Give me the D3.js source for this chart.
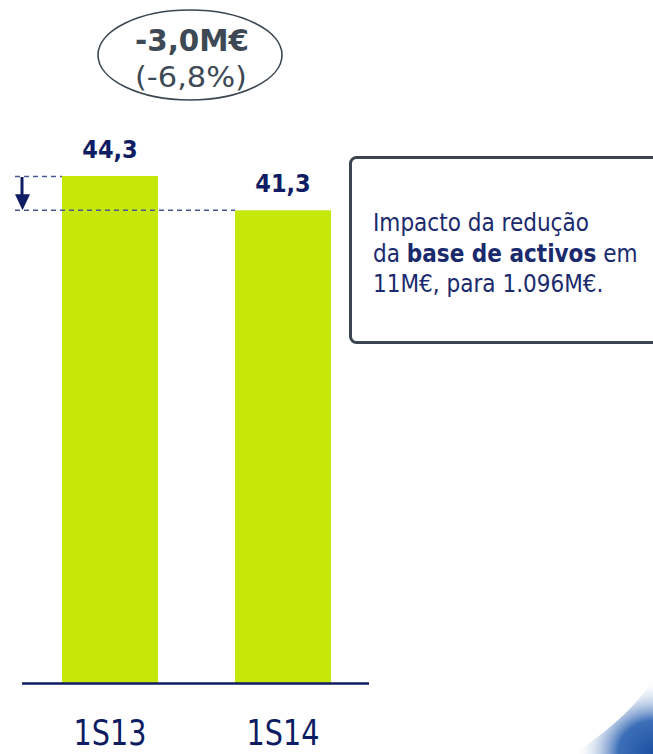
<!DOCTYPE html>
<html><head><meta charset="utf-8">
<script src="https://cdn.jsdelivr.net/npm/d3@7"></script>
<style>html,body{margin:0;padding:0;background:#fff;}svg{display:block;}</style>
</head><body>
<script>
const categories = ["1S13", "1S14"];
const values = [44.3, 41.3];
const valueLabels = ["44,3", "41,3"];
const deltaLabel = "-3,0M€";
const deltaPct = "(-6,8%)";
const noteLines = [
  [{t:"Impacto da redução", b:false}],
  [{t:"da ", b:false}, {t:"base de activos", b:true}, {t:" em", b:false}],
  [{t:"11M€, para 1.096M€.", b:false}]
];

const W = 653, H = 754;
const svg = d3.select("body").append("svg").attr("width", W).attr("height", H);
const fontC = "'DejaVu Sans Condensed', 'DejaVu Sans', sans-serif";
const navy = "#0e1d63";

// corner swoosh decoration
const defs = svg.append("defs");
const rg = defs.append("radialGradient").attr("id","sw").attr("cx","100%").attr("cy","100%").attr("r","100%");
rg.append("stop").attr("offset","0%").attr("stop-color","#1b4fa0");
rg.append("stop").attr("offset","45%").attr("stop-color","#3d6fb8");
rg.append("stop").attr("offset","100%").attr("stop-color","#ffffff").attr("stop-opacity",0);
svg.append("path").attr("d","M653,680 L653,754 L575,754 C600,735 630,715 653,680 Z").attr("fill","url(#sw)");

const xPos = d3.scalePoint().domain(categories).range([110, 283]);
const barW = 96;
const y = d3.scaleLinear().domain([0, 44.3]).range([683, 176]);

svg.selectAll("rect.bar").data(values).join("rect")
  .attr("x", (d,i) => xPos(categories[i]) - barW/2)
  .attr("y", d => y(d)).attr("width", barW).attr("height", d => y(0) - y(d))
  .attr("fill", "#c5e80a");

// baseline axis
const axis = d3.axisBottom(xPos).tickSize(0).tickFormat("");
const ag = svg.append("g").attr("transform", `translate(0,${y(0)})`).call(axis);
ag.select(".domain").attr("d", "M22,0.5H369").attr("stroke", navy).attr("stroke-width", 2.5);

// category labels
svg.selectAll("text.cat").data(categories).join("text")
  .attr("x", d => xPos(d)).attr("y", 745).attr("text-anchor","middle")
  .attr("font-family", fontC).attr("font-size", 36)
  .attr("fill", navy).attr("textLength", 73).attr("lengthAdjust","spacingAndGlyphs")
  .text(d => d);

// value labels
svg.selectAll("text.val").data(values).join("text")
  .attr("x", (d,i) => xPos(categories[i])).attr("y", d => y(d) - 18)
  .attr("text-anchor","middle").attr("font-family", fontC).attr("font-weight","bold")
  .attr("font-size", 25).attr("fill", navy).text((d,i) => valueLabels[i]);

// dashed reference lines
const dash = "5,4";
svg.append("line").attr("x1",15).attr("x2",xPos(categories[0]) - barW/2).attr("y1",y(values[0])+0.5).attr("y2",y(values[0])+0.5)
  .attr("stroke","#4a5690").attr("stroke-width",1.5).attr("stroke-dasharray",dash);
svg.append("line").attr("x1",15).attr("x2",xPos(categories[1]) - barW/2).attr("y1",y(values[1])).attr("y2",y(values[1]))
  .attr("stroke","#4a5690").attr("stroke-width",1.5).attr("stroke-dasharray",dash);
// arrow
svg.append("line").attr("x1",22).attr("x2",22).attr("y1",y(values[0])+1).attr("y2",y(values[1])-12)
  .attr("stroke",navy).attr("stroke-width",3);
svg.append("path").attr("d",`M15,${y(values[1])-16} L30,${y(values[1])-16} L22.5,${y(values[1])} Z`).attr("fill",navy);

// ellipse with delta
svg.append("ellipse").attr("cx",190).attr("cy",55).attr("rx",92).attr("ry",45)
  .attr("fill","#fff").attr("stroke","#3a4550").attr("stroke-width",1.6);
svg.append("text").attr("x",192).attr("y",51).attr("text-anchor","middle").attr("font-family",fontC)
  .attr("font-weight","bold").attr("font-size",31).attr("fill","#3d4a55")
  .attr("textLength",114).attr("lengthAdjust","spacingAndGlyphs").text(deltaLabel);
svg.append("text").attr("x",191).attr("y",87).attr("text-anchor","middle").attr("font-family",fontC)
  .attr("font-size",29).attr("fill","#3d4a55")
  .attr("textLength",112).attr("lengthAdjust","spacingAndGlyphs").text(deltaPct);

// note box
svg.append("rect").attr("x",350.5).attr("y",157.5).attr("width",330).attr("height",185).attr("rx",6)
  .attr("fill","#fff").attr("stroke","#3a4550").attr("stroke-width",3);
const nt = svg.append("g");
noteLines.forEach((ln, i) => {
  const t = nt.append("text").attr("x",373).attr("y",231 + i*30.5).attr("font-family",fontC)
    .attr("font-size",24).attr("fill","#1a2a6c");
  ln.forEach(s => t.append("tspan").attr("font-weight", s.b ? "bold" : "normal").text(s.t));
});
</script>
</body></html>
